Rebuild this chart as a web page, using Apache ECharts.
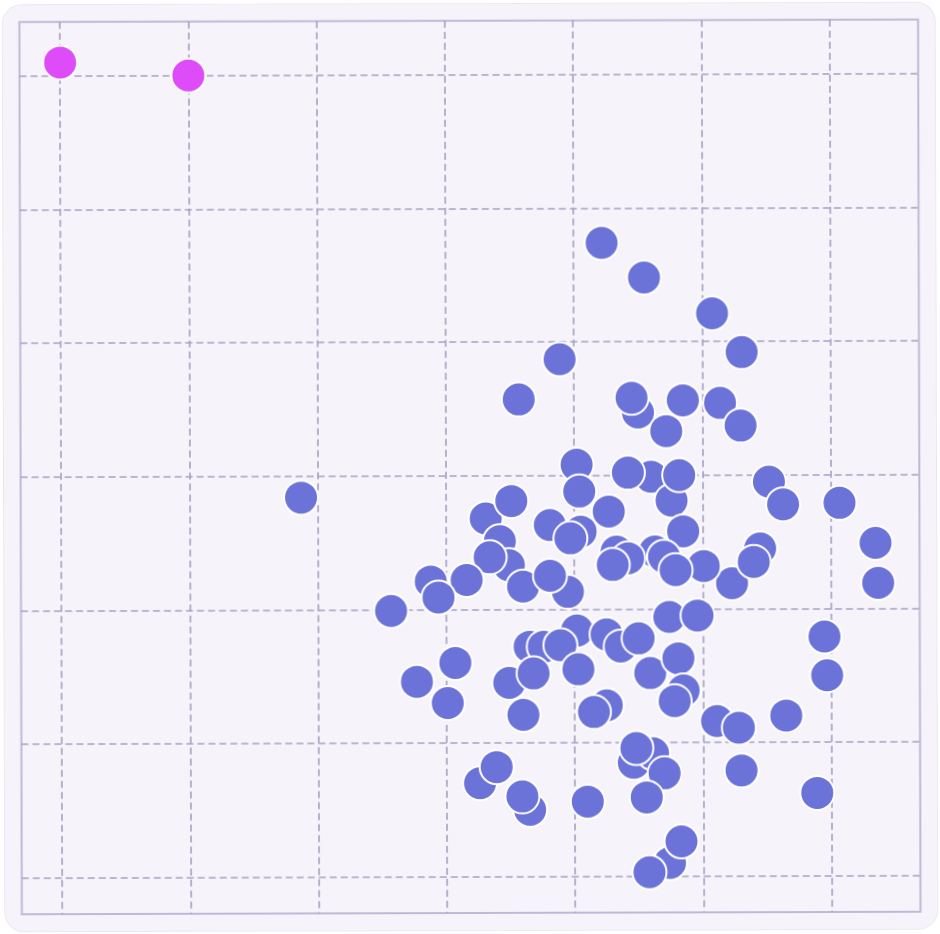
<!DOCTYPE html>
<html>
<head>
<meta charset="utf-8">
<script src="https://cdn.jsdelivr.net/npm/echarts@6/dist/echarts.min.js"></script>
<style>
html,body{margin:0;padding:0;background:#ffffff;width:940px;height:934px;overflow:hidden}
#wrap{position:absolute;left:0;top:0;width:940px;height:934px;transform:rotate(-0.16deg);transform-origin:470px 467px}
#panel{position:absolute;left:3px;top:3px;width:932px;height:926px;border-radius:20px;background:#f6f4fa;border:1px solid #ebe8f2}
#chart{position:absolute;left:0;top:0;width:940px;height:934px}
</style>
</head>
<body>
<div id="wrap"><div id="panel"></div><div id="chart"></div></div>
<script>
// Axis ranges (value units)
const xRange = [-0.317, 6.693];
const yRange = [-0.271, 6.404];

// Highlighted (magenta) points
const highlightX = [0.00, 1.00];
const highlightY = [6.10, 6.00];

// Main (blue) points
const mainX = [
  4.22, 4.55, 5.08, 5.31, 3.89, 3.57, 4.50, 4.45, 4.72, 4.85,
  5.14, 5.30, 1.87, 4.02, 4.04, 4.27, 4.05, 3.81, 3.97, 3.31,
  3.51, 3.42, 3.49, 3.34, 3.60, 3.95, 3.81, 3.16, 2.88, 2.94,
  2.57, 4.60, 4.76, 4.42, 4.82, 4.85, 5.52, 5.63, 6.07, 6.35,
  6.37, 5.45, 5.23, 5.40, 5.01, 4.63, 4.70, 4.79, 4.33, 4.42,
  4.30, 4.74, 4.96, 5.95, 5.97, 5.65, 5.11, 5.28, 5.30, 5.89,
  4.02, 3.65, 3.76, 3.89, 3.49, 3.68, 4.03, 4.25, 4.36, 4.50,
  4.59, 4.81, 4.85, 4.78, 4.25, 4.15, 3.60, 3.07, 2.77, 3.01,
  4.46, 4.61, 4.48, 4.70, 4.56, 3.26, 3.39, 3.65, 3.59, 4.10,
  4.74, 4.83, 4.58
];
const mainY = [
  4.74, 4.48, 4.21, 3.92, 3.87, 3.57, 3.47, 3.58, 3.33, 3.56,
  3.54, 3.37, 2.84, 3.08, 2.88, 2.73, 2.58, 2.63, 2.53, 2.68,
  2.81, 2.51, 2.33, 2.39, 2.17, 2.13, 2.25, 2.22, 2.21, 2.09,
  1.99, 2.99, 2.81, 3.02, 3.00, 2.58, 2.95, 2.78, 2.79, 2.49,
  2.19, 2.45, 2.19, 2.35, 2.32, 2.43, 2.39, 2.29, 2.43, 2.38,
  2.33, 1.94, 1.95, 1.79, 1.50, 1.20, 1.16, 1.11, 0.79, 0.62,
  1.84, 1.72, 1.72, 1.73, 1.45, 1.52, 1.55, 1.81, 1.72, 1.78,
  1.52, 1.63, 1.39, 1.31, 1.28, 1.23, 1.21, 1.60, 1.46, 1.30,
  0.85, 0.92, 0.96, 0.77, 0.59, 0.70, 0.82, 0.50, 0.60, 0.56,
  0.10, 0.26, 0.03
];

const zip = (xs, ys) => xs.map((x, i) => [x, ys[i]]);

const chart = echarts.init(document.getElementById('chart'), null, {renderer: 'canvas'});
const splitStyle = {
  show: true, showMinLine: false, showMaxLine: false,
  lineStyle: {color: '#a4a1c3', width: 1.6, type: [7, 4]}
};
chart.setOption({
  animation: false,
  backgroundColor: 'transparent',
  grid: {
    left: 20.6, top: 20.8, width: 898.7, height: 892.2,
    show: true, backgroundColor: 'transparent',
    borderColor: '#bdbad7', borderWidth: 2
  },
  xAxis: {
    type: 'value', min: xRange[0], max: xRange[1], splitNumber: 7,
    axisLine: {show: false}, axisTick: {show: false}, axisLabel: {show: false},
    splitLine: splitStyle
  },
  yAxis: {
    type: 'value', min: yRange[0], max: yRange[1], splitNumber: 7,
    axisLine: {show: false}, axisTick: {show: false}, axisLabel: {show: false},
    splitLine: splitStyle
  },
  series: [
    {
      name: 'Samples', type: 'scatter', symbol: 'circle', symbolSize: 34,
      itemStyle: {color: '#6c73d8', borderColor: '#ffffff', borderWidth: 2, opacity: 1},
      data: zip(mainX, mainY)
    },
    {
      name: 'Highlighted', type: 'scatter', symbol: 'circle', symbolSize: 34,
      itemStyle: {color: '#de4cfa', borderColor: '#ffffff', borderWidth: 2, opacity: 1},
      data: zip(highlightX, highlightY)
    }
  ]
});
</script>
</body>
</html>
